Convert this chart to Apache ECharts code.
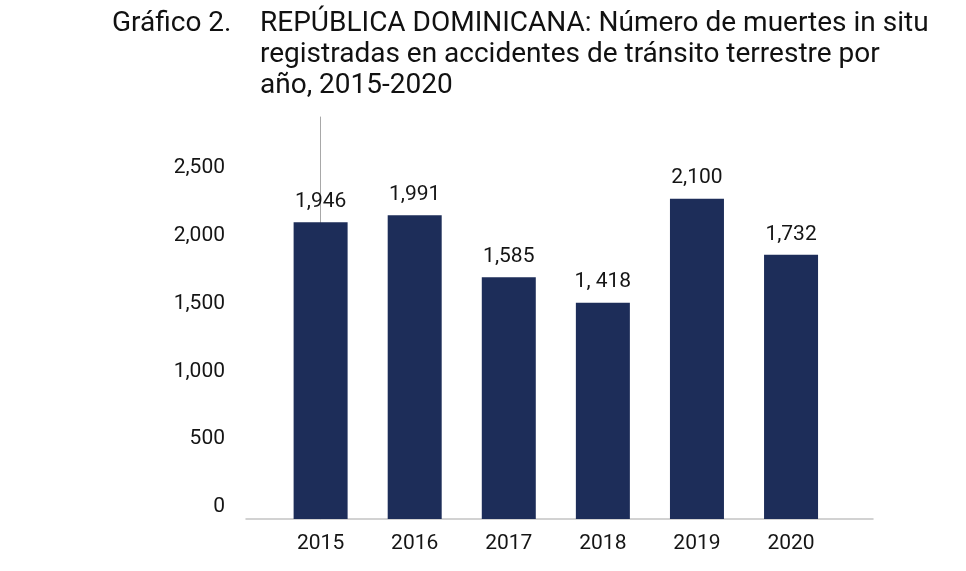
<!DOCTYPE html>
<html>
<head>
<meta charset="utf-8">
<script src="https://cdn.jsdelivr.net/npm/echarts@6/dist/echarts.min.js"></script>
<style>html,body{margin:0;padding:0;background:#fff}#c{width:966px;height:571px}</style>
</head>
<body>
<div id="c"></div>
<script>
var categories = ['2015', '2016', '2017', '2018', '2019', '2020'];
var values = [1946, 1991, 1585, 1418, 2100, 1732];
var valueLabels = ['1,946', '1,991', '1,585', '1, 418', '2,100', '1,732'];
var yTickValues = [0, 500, 1000, 1500, 2000, 2500];
var yTickLabels = ['0', '500', '1,000', '1,500', '2,000', '2,500'];
var titleLabel = 'Gráfico 2.';
var titleText = 'REPÚBLICA DOMINICANA: Número de muertes in situ\nregistradas en accidentes de tránsito terrestre por\naño, 2015-2020';

var FONT = 'Roboto';
var chart = echarts.init(document.getElementById('c'), null, {renderer: 'canvas'});
var barData = values.map(function (v, i) { return [i, v]; });

chart.setOption({
  animation: false,
  backgroundColor: '#ffffff',
  title: [
    {left: 107, top: 3, text: titleLabel,
     textStyle: {fontFamily: FONT, fontSize: 28, fontWeight: 'normal', color: '#111111', lineHeight: 31}},
    {left: 255, top: 3, text: titleText,
     textStyle: {fontFamily: FONT, fontSize: 28, fontWeight: 'normal', color: '#111111', lineHeight: 31}}
  ],
  grid: {left: 246, right: 966 - 873, top: 117, bottom: 571 - 519, containLabel: false},
  xAxis: {
    type: 'value', min: -0.793, max: 5.871,
    axisLine: {show: true, lineStyle: {color: '#c4c4c4', width: 1.5}},
    axisTick: {show: false},
    splitLine: {show: false},
    axisLabel: {
      customValues: categories.map(function (c, i) { return i; }),
      formatter: function (v) { return categories[Math.round(v)]; },
      fontFamily: FONT, fontSize: 21, color: '#151515', margin: 14
    }
  },
  yAxis: [
    {
      type: 'value', min: 0, max: 2636,
      axisLine: {show: true, lineStyle: {color: '#a8a8a8', width: 1}},
      axisTick: {show: false}, splitLine: {show: false}, axisLabel: {show: false}
    },
    {
      type: 'value', position: 'left', min: -88.4, max: 2873.6,
      axisLine: {show: false}, axisTick: {show: false}, splitLine: {show: false},
      axisLabel: {
        customValues: yTickValues,
        formatter: function (v) { return yTickLabels[yTickValues.indexOf(v)]; },
        fontFamily: FONT, fontSize: 21, color: '#151515', margin: 21
      }
    }
  ],
  series: [{
    type: 'bar', yAxisIndex: 0, data: barData, barWidth: 54,
    itemStyle: {color: '#1d2d59'},
    label: {
      show: true, position: 'top', distance: 10,
      formatter: function (p) { return valueLabels[p.dataIndex]; },
      fontFamily: FONT, fontSize: 21, color: '#151515'
    }
  }]
});
</script>
</body>
</html>
